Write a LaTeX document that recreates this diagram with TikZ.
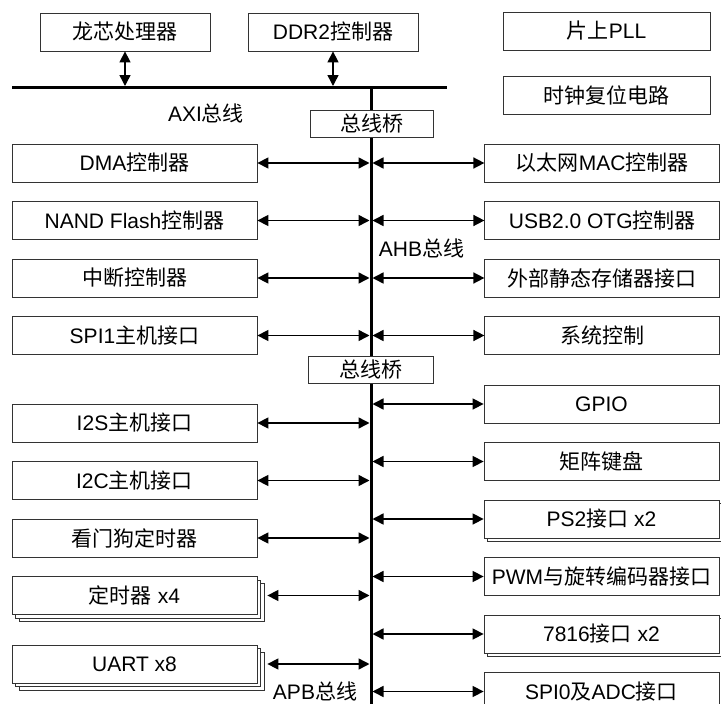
\documentclass[tikz,border=0pt]{standalone}
\usepackage{fontspec}
\setmainfont{Liberation Sans}
\newfontfamily\cjkfont{Noto Sans CJK SC}
\newcommand{\hz}[1]{{\cjkfont #1}}
\usetikzlibrary{arrows.meta}
\usetikzlibrary{positioning, shadows}

\begin{document}
\begin{tikzpicture}[x=1pt, y=-1pt, node distance=18.7pt,
        font=\fontsize{21pt}{24pt}\selectfont,
        box/.style={draw=black!80, line width=0.8pt, fill=white, inner sep=0pt, minimum height=38pt},
        lbox/.style={box, minimum width=245pt},
        rbox/.style={box, minimum width=235pt},
        topbox/.style={box, minimum width=170pt},
        bridge/.style={box, minimum width=123pt, minimum height=27pt},
        stack/.style={double copy shadow={shadow xshift=3.5pt, shadow yshift=-3.5pt, draw=black!80, fill=white, line width=0.8pt}},
        pair/.style={copy shadow={shadow xshift=3.5pt, shadow yshift=-3.5pt, draw=black!80, fill=white, line width=0.8pt}},
        bus/.style={line width=3pt},
        link/.style={{Triangle[length=11pt,width=11pt]}-{Triangle[length=11pt,width=11pt]}, line width=1.5pt}]
        \useasboundingbox (0,0) rectangle (721,704);

        % buses
        \coordinate (axiL) at (12,87.5);
        \coordinate (axiR) at (447,87.5);
        \coordinate (busT) at (371,87.5);
        \coordinate (busB) at (371,706);
        \draw[bus] (axiL) -- (axiR);
        \draw[bus] (busT) -- (busB);

        % AXI
        \node[topbox] (cpu) at (125,32) {\hz{龙芯处理器}};
        \node[topbox] (ddr) at (333,32) {DDR2\hz{控制器}};
        \node[box, minimum width=207pt] (pll) at (606.5,31) {\hz{片上}PLL};
        \node[box, minimum width=207pt] (rst) at (606.5,95.5) {\hz{时钟复位电路}};
        \node (axi) at (206,113) {AXI\hz{总线}};
        \node[bridge] (br1) at (371.5,123.5) {\hz{总线桥}};

        % AHB
        \node[lbox] (dma) at (134.5,163) {DMA\hz{控制器}};
        \node[lbox, below=of dma] (nand) {NAND Flash\hz{控制器}};
        \node[lbox, below=of nand] (irq) {\hz{中断控制器}};
        \node[lbox, below=of irq] (spi1) {SPI1\hz{主机接口}};
        \node[rbox, right=227pt of dma] (mac) {\hz{以太网}MAC\hz{控制器}};
        \node[rbox, below=of mac] (usb) {USB2.0 OTG\hz{控制器}};
        \node[rbox, below=of usb] (sram) {\hz{外部静态存储器接口}};
        \node[rbox, below=of sram] (sys) {\hz{系统控制}};
        \node (ahb) at (421.5,248) {AHB\hz{总线}};
        \node[bridge, minimum width=125pt] (br2) at (370.5,370) {\hz{总线桥}};

        % APB
        \node[lbox] (i2s) at (134.5,423) {I2S\hz{主机接口}};
        \node[lbox, below=of i2s] (i2c) {I2C\hz{主机接口}};
        \node[lbox, below=of i2c] (wdt) {\hz{看门狗定时器}};
        \node[lbox, stack, below=of wdt] (tmr) {\hz{定时器} x4};
        \node[lbox, stack, below=29.7pt of tmr] (uart) {UART x8};
        \node[rbox] (gpio) at (601.5,404) {GPIO};
        \node[rbox, below=of gpio] (kbd) {\hz{矩阵键盘}};
        \node[rbox, pair, below=of kbd] (ps2) {PS2\hz{接口} x2};
        \node[rbox, below=of ps2] (pwm) {PWM\hz{与旋转编码器接口}};
        \node[rbox, pair, below=of pwm] (card) {7816\hz{接口} x2};
        \node[rbox, below=of card] (spi0) {SPI0\hz{及}ADC\hz{接口}};
        \node (apb) at (315,691) {APB\hz{总线}};

        \draw[link, shorten >=1.5pt] (cpu.south) -- (cpu.south |- axiL);
        \draw[link, shorten >=1.5pt] (ddr.south) -- (ddr.south |- axiL);

        \draw[link, shorten >=1.5pt] (dma.east) -- (dma.east -| busT);
        \draw[link, shorten >=1.5pt] (nand.east) -- (nand.east -| busT);
        \draw[link, shorten >=1.5pt] (irq.east) -- (irq.east -| busT);
        \draw[link, shorten >=1.5pt] (spi1.east) -- (spi1.east -| busT);
        \draw[link, shorten <=1.5pt] (mac.west -| busT) -- (mac.west);
        \draw[link, shorten <=1.5pt] (usb.west -| busT) -- (usb.west);
        \draw[link, shorten <=1.5pt] (sram.west -| busT) -- (sram.west);
        \draw[link, shorten <=1.5pt] (sys.west -| busT) -- (sys.west);

        \draw[link, shorten >=1.5pt] (i2s.east) -- (i2s.east -| busT);
        \draw[link, shorten >=1.5pt] (i2c.east) -- (i2c.east -| busT);
        \draw[link, shorten >=1.5pt] (wdt.east) -- (wdt.east -| busT);
        \draw[link, shorten >=1.5pt] ([xshift=10pt]tmr.east) -- (tmr.east -| busT);
        \draw[link, shorten >=1.5pt] ([xshift=10pt]uart.east) -- (uart.east -| busT);
        \draw[link, shorten <=1.5pt] (gpio.west -| busT) -- (gpio.west);
        \draw[link, shorten <=1.5pt] (kbd.west -| busT) -- (kbd.west);
        \draw[link, shorten <=1.5pt] (ps2.west -| busT) -- (ps2.west);
        \draw[link, shorten <=1.5pt] (pwm.west -| busT) -- (pwm.west);
        \draw[link, shorten <=1.5pt] (card.west -| busT) -- (card.west);
        \draw[link, shorten <=1.5pt] (spi0.west -| busT) -- (spi0.west);
\end{tikzpicture}
\end{document}
